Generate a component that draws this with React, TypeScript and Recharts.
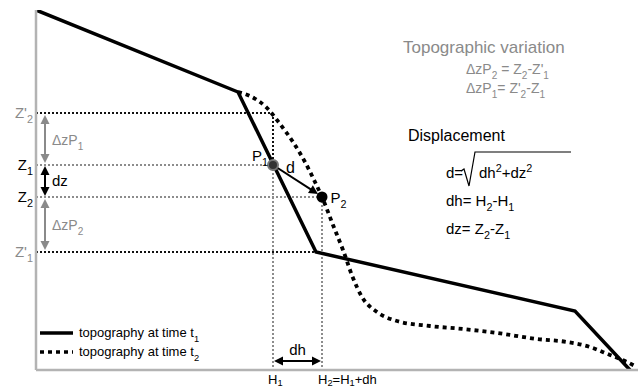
import React from 'react';
import { ComposedChart, Line, XAxis, YAxis, ReferenceLine, ReferenceDot } from 'recharts';

// topography at time t1 (distance, elevation)
const distancesT1 = [0, 202, 280, 539, 594];
const elevationsT1 = [360, 278, 118, 59, 0];
// topography at time t2
const distancesT2 = [202, 214, 231, 244, 257, 269, 279, 286, 297, 307, 317, 326, 341, 361, 394, 427, 461, 501, 531, 554, 574, 591, 601];
const elevationsT2 = [278, 274, 262, 246, 228, 208, 188, 173, 145, 120, 92, 73, 58, 49, 44, 41, 37, 31, 28, 23, 15, 8, 3];

// key positions
const H1 = 237;
const H2 = 286;
const Z1 = 205;
const Z2 = 173;
const Zp2 = 257;
const Zp1 = 118;
const dhLevel = 9;
const arrowX = 9;
const d2tip = { x: 282, y: 176 };

const t1 = distancesT1.map((x, i) => ({ x, y: elevationsT1[i] }));
const t2 = distancesT2.map((x, i) => ({ x, y: elevationsT2[i] }));

const FONT = '"Liberation Sans", Arial, sans-serif';
const GRAY = '#8a8a8a';
const DOT_GRAY = '#8c8c8c';

type Part = [string, ('n' | 'b' | 'p')?];
const Formula = ({ x, y, parts, size = 15, fill = '#000', anchor = 'start', subDy = 5 }: any) => {
  let level = 0;
  return (
    <text x={x} y={y} fill={fill} fontSize={size} textAnchor={anchor} fontFamily={FONT}>
      {(parts as Part[]).map(([t, k = 'n'], i) => {
        const target = k === 'b' ? subDy : k === 'p' ? -6 : 0;
        const dy = target - level;
        level = target;
        return (
          <tspan key={i} dy={dy} fontSize={k === 'n' ? size : size * 0.72}>
            {t}
          </tspan>
        );
      })}
    </text>
  );
};

const arrowShape = (color: string, both: boolean, width = 2) => (p: any) => {
  const { x1, y1, x2, y2 } = p;
  if ([x1, y1, x2, y2].some((v) => typeof v !== 'number' || isNaN(v))) return null;
  const dx = x2 - x1;
  const dy = y2 - y1;
  const len = Math.hypot(dx, dy) || 1;
  const ux = dx / len;
  const uy = dy / len;
  const L = 9;
  const W = 4.5;
  const head = (tx: number, ty: number, dirx: number, diry: number) => {
    const bx = tx - dirx * L;
    const by = ty - diry * L;
    return `${tx},${ty} ${bx - diry * W},${by + dirx * W} ${bx + diry * W},${by - dirx * W}`;
  };
  const sx = both ? x1 + ux * L * 0.8 : x1;
  const sy = both ? y1 + uy * L * 0.8 : y1;
  const ex = x2 - ux * L * 0.8;
  const ey = y2 - uy * L * 0.8;
  return (
    <g>
      <line x1={sx} y1={sy} x2={ex} y2={ey} stroke={color} strokeWidth={width} />
      <polygon points={head(x2, y2, ux, uy)} fill={color} />
      {both && <polygon points={head(x1, y1, -ux, -uy)} fill={color} />}
    </g>
  );
};

const vbOf = (p: any) => p && p.viewBox;

const leftLabel = (parts: Part[], fill: string) => (p: any) => {
  const vb = vbOf(p);
  if (!vb) return null;
  return <Formula x={vb.x - 3} y={vb.y + 5} parts={parts} fill={fill} size={15} anchor="end" />;
};

export default function App() {
  return (
    <div style={{ position: 'absolute', left: 0, top: 0, width: 639, height: 388, background: '#fff' }}>
      <ComposedChart width={639} height={388} margin={{ top: 10, right: 1, left: 0, bottom: 0 }}>
        <XAxis
          type="number"
          dataKey="x"
          domain={[0, 602]}
          tick={false}
          tickLine={false}
          height={18}
          axisLine={{ stroke: '#b3b3b3', strokeWidth: 2.5 }}
          allowDataOverflow
        />
        <YAxis
          type="number"
          dataKey="y"
          domain={[0, 360]}
          tick={false}
          tickLine={false}
          width={36}
          axisLine={{ stroke: '#b3b3b3', strokeWidth: 2.5 }}
          allowDataOverflow
        />

        {/* horizontal guide lines */}
        <ReferenceLine
          segment={[{ x: 0, y: Zp2 }, { x: H1, y: Zp2 }]}
          stroke="#111"
          strokeWidth={2}
          strokeDasharray="2 2"
          ifOverflow="visible"
          label={leftLabel([["Z'"], ['2', 'b']], GRAY)}
        />
        <ReferenceLine
          segment={[{ x: 0, y: Z1 }, { x: H1, y: Z1 }]}
          stroke={DOT_GRAY}
          strokeWidth={2}
          strokeDasharray="2 2"
          ifOverflow="visible"
          label={leftLabel([['Z'], ['1', 'b']], '#000')}
        />
        <ReferenceLine
          segment={[{ x: 0, y: Z2 }, { x: H2, y: Z2 }]}
          stroke={DOT_GRAY}
          strokeWidth={2}
          strokeDasharray="2 2"
          ifOverflow="visible"
          label={leftLabel([['Z'], ['2', 'b']], '#000')}
        />
        <ReferenceLine
          segment={[{ x: 0, y: Zp1 }, { x: distancesT1[2], y: Zp1 }]}
          stroke="#111"
          strokeWidth={2}
          strokeDasharray="2 2"
          ifOverflow="visible"
          label={leftLabel([["Z'"], ['1', 'b']], GRAY)}
        />

        {/* vertical guide lines */}
        <ReferenceLine
          segment={[{ x: H1, y: Zp2 }, { x: H1, y: Z1 }]}
          stroke="#111"
          strokeWidth={2}
          strokeDasharray="2 2"
          ifOverflow="visible"
        />
        <ReferenceLine
          segment={[{ x: H1, y: Z1 }, { x: H1, y: 0 }]}
          stroke={DOT_GRAY}
          strokeWidth={2}
          strokeDasharray="2 2"
          ifOverflow="visible"
          label={(p: any) => {
            const vb = vbOf(p);
            if (!vb) return null;
            return <Formula x={vb.x - 5} y={vb.y + vb.height + 14} parts={[['H'], ['1', 'b']]} size={13} subDy={2} />;
          }}
        />
        <ReferenceLine
          segment={[{ x: H2, y: Z2 }, { x: H2, y: 0 }]}
          stroke={DOT_GRAY}
          strokeWidth={2}
          strokeDasharray="2 2"
          ifOverflow="visible"
          label={(p: any) => {
            const vb = vbOf(p);
            if (!vb) return null;
            return (
              <Formula
                x={vb.x - 4}
                y={vb.y + vb.height + 14}
                parts={[['H'], ['2', 'b'], ['=H'], ['1', 'b'], ['+dh']]}
                size={13}
                subDy={2}
              />
            );
          }}
        />

        {/* topography lines */}
        <Line
          data={t1}
          dataKey="y"
          type="linear"
          stroke="#000"
          strokeWidth={3.5}
          dot={false}
          activeDot={false}
          isAnimationActive={false}
        />
        <Line
          data={t2}
          dataKey="y"
          type="monotone"
          stroke="#000"
          strokeWidth={3.8}
          strokeDasharray="4 4"
          dot={false}
          activeDot={false}
          isAnimationActive={false}
        />

        {/* arrows */}
        <ReferenceLine
          segment={[{ x: arrowX, y: Zp2 - 2 }, { x: arrowX, y: Z1 + 2 }]}
          ifOverflow="visible"
          shape={arrowShape(GRAY, true)}
          label={(p: any) => {
            const vb = vbOf(p);
            if (!vb) return null;
            return <Formula x={vb.x + 7} y={vb.y + vb.height / 2 + 6} parts={[['ΔzP'], ['1', 'b']]} fill={GRAY} size={14} />;
          }}
        />
        <ReferenceLine
          segment={[{ x: arrowX, y: Z1 - 1 }, { x: arrowX, y: Z2 + 1 }]}
          ifOverflow="visible"
          shape={arrowShape('#000', true)}
          label={(p: any) => {
            const vb = vbOf(p);
            if (!vb) return null;
            return <Formula x={vb.x + 7} y={vb.y + vb.height / 2 + 5} parts={[['dz']]} size={15} />;
          }}
        />
        <ReferenceLine
          segment={[{ x: arrowX, y: Z2 - 2 }, { x: arrowX, y: Zp1 + 2 }]}
          ifOverflow="visible"
          shape={arrowShape(GRAY, true)}
          label={(p: any) => {
            const vb = vbOf(p);
            if (!vb) return null;
            return <Formula x={vb.x + 7} y={vb.y + vb.height / 2 + 5} parts={[['ΔzP'], ['2', 'b']]} fill={GRAY} size={14} />;
          }}
        />
        <ReferenceLine
          segment={[{ x: H1 + 1, y: dhLevel }, { x: H2 - 1, y: dhLevel }]}
          ifOverflow="visible"
          shape={arrowShape('#000', true)}
          label={(p: any) => {
            const vb = vbOf(p);
            if (!vb) return null;
            return <Formula x={vb.x + vb.width / 2} y={vb.y - 6} parts={[['dh']]} size={15} anchor="middle" />;
          }}
        />
        <ReferenceLine
          segment={[{ x: H1, y: Z1 }, d2tip]}
          ifOverflow="visible"
          shape={arrowShape('#000', false)}
          label={(p: any) => {
            const vb = vbOf(p);
            if (!vb) return null;
            return <Formula x={vb.x + 13} y={vb.y + 8} parts={[['d']]} size={16} />;
          }}
        />

        {/* points */}
        <ReferenceDot
          x={H1}
          y={Z1}
          r={5}
          fill="#333"
          stroke="#777"
          strokeWidth={2}
          ifOverflow="visible"
          label={(p: any) => {
            const vb = vbOf(p);
            if (!vb) return null;
            return <Formula x={vb.x - 16} y={vb.y + 1} parts={[['P'], ['1', 'b']]} size={15} />;
          }}
        />
        <ReferenceDot
          x={H2}
          y={Z2}
          r={5.5}
          fill="#000"
          stroke="#000"
          strokeWidth={0}
          ifOverflow="visible"
          label={(p: any) => {
            const vb = vbOf(p);
            if (!vb) return null;
            return <Formula x={vb.x + 14} y={vb.y + 11} parts={[['P'], ['2', 'b']]} size={15} />;
          }}
        />
      </ComposedChart>

      <svg
        width={639}
        height={388}
        style={{ position: 'absolute', left: 0, top: 0, pointerEvents: 'none' }}
      >
        <text x={403} y={53} fontSize={17} fill={GRAY} fontFamily={FONT}>
          Topographic variation
        </text>
        <Formula x={466} y={74} size={14} fill={GRAY} parts={[['ΔzP'], ['2', 'b'], [' = Z'], ['2', 'b'], ['-Z\''], ['1', 'b']]} />
        <Formula x={466} y={93} size={14} fill={GRAY} parts={[['ΔzP'], ['1', 'b'], ['= Z\''], ['2', 'b'], ['-Z'], ['1', 'b']]} />

        <text x={408} y={141} fontSize={16} fill="#000" fontFamily={FONT}>
          Displacement
        </text>
        <Formula x={446} y={178} size={15} parts={[['d=']]} />
        <polyline points="461,171 464,169 469,186 475,152 571,152" fill="none" stroke="#000" strokeWidth={1.2} />
        <Formula x={479} y={178} size={15} parts={[['dh'], ['2', 'p'], ['+dz'], ['2', 'p']]} />
        <Formula x={446} y={206} size={15} parts={[['dh= H'], ['2', 'b'], ['-H'], ['1', 'b']]} />
        <Formula x={446} y={234} size={15} parts={[['dz= Z'], ['2', 'b'], ['-Z'], ['1', 'b']]} />

        {/* legend */}
        <line x1={40} y1={333} x2={73} y2={333} stroke="#000" strokeWidth={3.5} />
        <Formula x={79} y={337} size={13} parts={[['topography at time t'], ['1', 'b']]} />
        <line x1={40} y1={352} x2={73} y2={352} stroke="#000" strokeWidth={3.5} strokeDasharray="4 4" />
        <Formula x={79} y={356} size={13} parts={[['topography at time t'], ['2', 'b']]} />
      </svg>
    </div>
  );
}
